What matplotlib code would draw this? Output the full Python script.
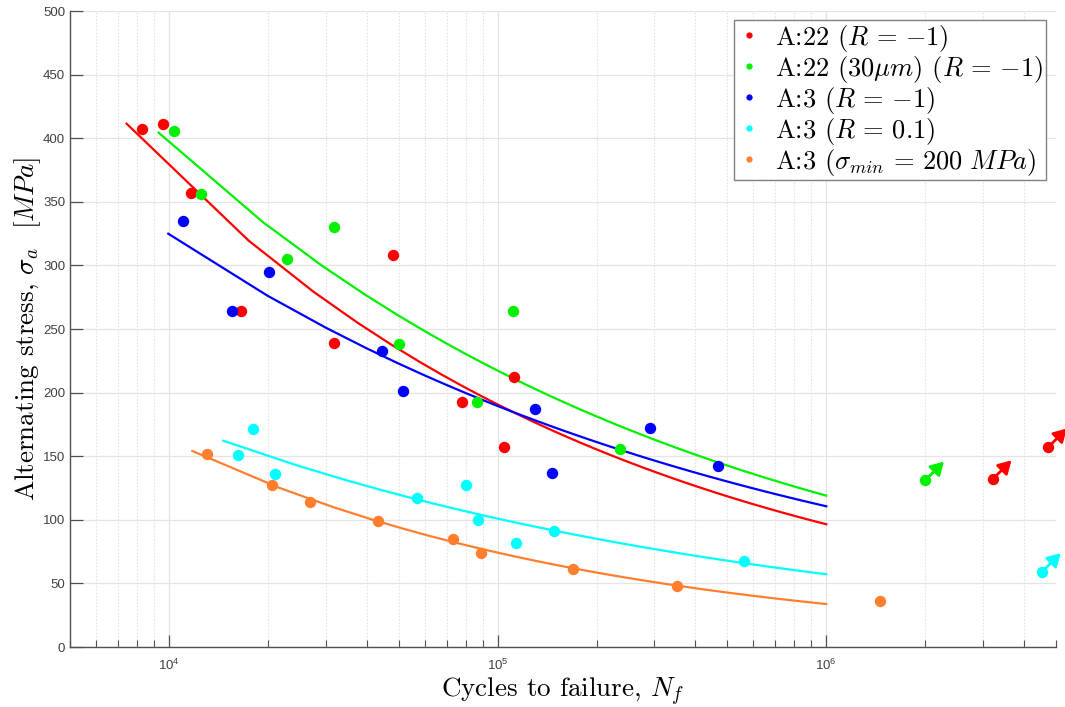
import numpy as np
import matplotlib
matplotlib.use("Agg")
import matplotlib.pyplot as plt
from matplotlib.ticker import LogLocator, MultipleLocator, NullFormatter

plt.rcParams["font.family"] = ["Liberation Sans", "DejaVu Sans"]
plt.rcParams["mathtext.fontset"] = "cm"

# Fatigue test results: cycles to failure and alternating stress [MPa]
red_N = [8260, 9610, 11680, 16530, 31770, 47960, 77920, 104600, 112100]
red_S = [407, 411, 357, 264, 239, 308, 193, 157, 212.5]
red_runout_N = [3.21e6, 4.73e6]
red_runout_S = [132, 157]

green_N = [10340, 12520, 22810, 31850, 50100, 86540, 111100, 235700]
green_S = [406, 356, 305, 330, 238, 193, 264, 156]
green_runout_N = [2.0e6]
green_runout_S = [131]

blue_N = [11060, 15550, 20110, 44590, 51420, 129900, 146700, 290700, 467000]
blue_S = [335, 264, 295, 233, 201, 187, 137, 172, 142]
blue_runout_N = []
blue_runout_S = []

cyan_N = [16260, 18020, 21020, 56960, 80110, 87340, 114000, 148700, 562800]
cyan_S = [151, 171, 136, 117, 127.5, 100, 81.5, 91.5, 68]
cyan_runout_N = [4.53e6]
cyan_runout_S = [59]

orange_N = [13090, 20580, 26810, 43250, 73010, 89000, 169200, 350500, 1.46e6]
orange_S = [152, 127, 114, 99, 85, 74, 61, 48, 36]
orange_runout_N = []
orange_runout_S = []

# Basquin fits  S = A * N**b  for each series
basquin_A = [5746, 4411, 2793, 1728, 3792]
basquin_b = [-0.2958, -0.2615, -0.2337, -0.2467, -0.3417]
fit_N_max = 1e6

labels = [
    r"A:22 ($R\,=\,{-1}$)",
    r"A:22 (30$\mu m$) ($R\,=\,{-1}$)",
    r"A:3 ($R\,=\,{-1}$)",
    r"A:3 ($R\,=\,0.1$)",
    r"A:3 ($\sigma_{min}\,=\,200\ MPa$)",
]
colors = ["#ff0000", "#00f000", "#0000ff", "#00ffff", "#ff7f2e"]

series = [
    (red_N, red_S, red_runout_N, red_runout_S),
    (green_N, green_S, green_runout_N, green_runout_S),
    (blue_N, blue_S, blue_runout_N, blue_runout_S),
    (cyan_N, cyan_S, cyan_runout_N, cyan_runout_S),
    (orange_N, orange_S, orange_runout_N, orange_runout_S),
]

fig = plt.figure(figsize=(10.65, 7.07), dpi=100)
ax = fig.add_axes([70 / 1065, 60 / 707, 986 / 1065, 636 / 707])

handles = []
for (N, S, rN, rS), col, lab, A, b in zip(series, colors, labels,
                                           basquin_A, basquin_b):
    N = np.asarray(N, float)
    n_fit = np.linspace(0.9 * N.min(), fit_N_max, 100)
    ax.plot(n_fit, A * n_fit ** b, color=col, lw=1.6, zorder=3)
    ax.plot(N, S, "o", color=col, ms=8.2, mec="none", zorder=4)
    h, = ax.plot([], [], "o", color=col, ms=4.5, mec="none", label=lab)
    handles.append(h)
    # run-outs: marker with an arrow pointing up-right
    for xn, ys in zip(rN, rS):
        ax.plot([xn], [ys], "o", color=col, ms=8.2, mec="none", zorder=4,
                clip_on=False)
        ax.annotate("", xy=(xn, ys), xycoords="data",
                    xytext=(13.5, 13.5), textcoords="offset points",
                    arrowprops=dict(arrowstyle="<|-,head_length=0.55,head_width=0.32",
                                    color=col, lw=2.0, shrinkA=0, shrinkB=0,
                                    mutation_scale=14),
                    annotation_clip=False, zorder=4)

ax.set_xscale("log")
ax.set_xlim(5e3, 5e6)
ax.set_ylim(0, 500)
ax.yaxis.set_major_locator(MultipleLocator(50))
ax.xaxis.set_major_locator(LogLocator(base=10, numticks=10))
ax.xaxis.set_minor_locator(LogLocator(base=10, subs=np.arange(2, 10), numticks=20))
ax.xaxis.set_minor_formatter(NullFormatter())

for side in ("top", "right"):
    ax.spines[side].set_visible(False)
for side in ("left", "bottom"):
    ax.spines[side].set_color("#505050")
    ax.spines[side].set_linewidth(1.0)

ax.tick_params(axis="both", which="major", direction="in", length=9, width=0.9,
               color="#505050", labelcolor="#404040", labelsize=9.5)
ax.tick_params(axis="x", which="minor", direction="in", length=5, width=0.8,
               color="#505050")
ax.tick_params(axis="x", which="major", pad=8)

ax.grid(True, which="major", color="#e4e4e4", lw=0.9, zorder=0)
ax.grid(True, which="minor", axis="x", color="#e4e4e4", lw=0.8, ls=(0, (1.5, 1.5)),
        zorder=0)
ax.set_axisbelow(True)

serif = {"family": "cmr10", "size": 19.5}
ax.set_xlabel(r"Cycles to failure, $N_f$", fontdict=serif, labelpad=2)
ax.set_ylabel(r"Alternating stress, $\sigma_a$  $[MPa]$", fontdict=serif,
              labelpad=0)

leg = ax.legend(handles=handles, loc="upper right",
                bbox_to_anchor=(1046 / 1065, 1 - 20 / 707),
                bbox_transform=fig.transFigure,
                prop={"family": "cmr10", "size": 19}, frameon=True,
                fancybox=False, framealpha=1, edgecolor="#808080",
                handlelength=0.9, handletextpad=0.55, borderpad=0.1,
                labelspacing=0.0, borderaxespad=0)
leg.get_frame().set_linewidth(1.0)

fig.savefig("out.png", dpi=100)
